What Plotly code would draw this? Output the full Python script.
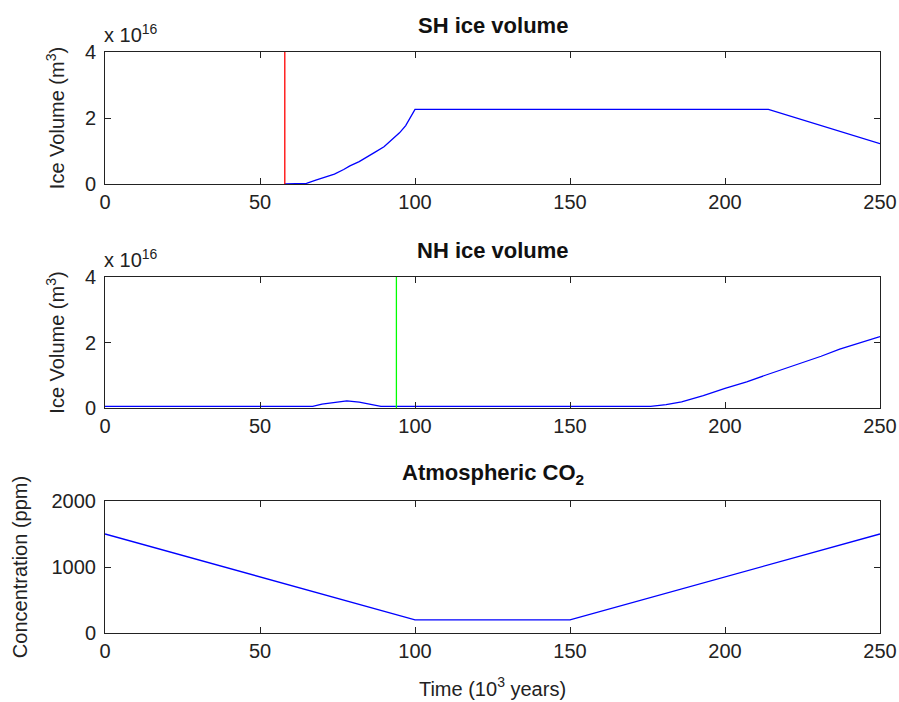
import plotly.graph_objects as go
from plotly.subplots import make_subplots

# SH ice volume (units of 1e16 m^3)
sh_t = [58, 65, 68, 71, 74, 77, 79, 82, 84, 87, 90, 93, 95, 97, 98.5, 100, 214, 250]
sh_v = [0, 0.02, 0.12, 0.21, 0.30, 0.44, 0.55, 0.68, 0.80, 0.96, 1.13, 1.38, 1.55, 1.77, 2.0, 2.26, 2.26, 1.22]
sh_marker_t = 58

# NH ice volume (units of 1e16 m^3)
nh_t = [0, 67, 70, 74, 78, 82, 86, 89, 176, 181, 186, 193, 200, 207, 213, 219, 224, 231, 237, 244, 250]
nh_v = [0.05, 0.05, 0.12, 0.18, 0.22, 0.18, 0.10, 0.05, 0.05, 0.10, 0.19, 0.38, 0.60, 0.80, 1.00, 1.19, 1.36, 1.58, 1.80, 2.00, 2.18]
nh_marker_t = 94

# Atmospheric CO2 (ppm)
co2_t = [0, 100, 150, 250]
co2_v = [1500, 200, 200, 1500]

xticks = [0, 50, 100, 150, 200, 250]
ice_ticks = [0, 2, 4]
co2_ticks = [0, 1000, 2000]

FONT = "Liberation Sans, Arial, sans-serif"
TS = 20

fig = make_subplots(rows=3, cols=1)

fig.add_trace(go.Scatter(x=sh_t, y=sh_v, mode="lines", line=dict(color="#0000FF", width=1.3)), row=1, col=1)
fig.add_trace(go.Scatter(x=[sh_marker_t, sh_marker_t], y=[0, 4], mode="lines", line=dict(color="#FF0000", width=1.3)), row=1, col=1)
fig.add_trace(go.Scatter(x=nh_t, y=nh_v, mode="lines", line=dict(color="#0000FF", width=1.3)), row=2, col=1)
fig.add_trace(go.Scatter(x=[nh_marker_t, nh_marker_t], y=[0, 4], mode="lines", line=dict(color="#00FF00", width=1.3)), row=2, col=1)
fig.add_trace(go.Scatter(x=co2_t, y=co2_v, mode="lines", line=dict(color="#0000FF", width=1.3)), row=3, col=1)

H = 702
t, b = 52, 69
ph = H - t - b
def frac(py):
    return (H - b - py) / ph

domains = [(frac(184), 1.0), (frac(408), frac(277)), (0.0, frac(501))]

axis_common = dict(
    showline=True, linecolor="#222222", linewidth=1, mirror="allticks",
    ticks="inside", ticklen=6, tickcolor="#222222", showgrid=False, zeroline=False,
    tickfont=dict(family=FONT, size=TS, color="#222222"), automargin=False,
)

for i in range(3):
    xa = "xaxis" if i == 0 else f"xaxis{i+1}"
    ya = "yaxis" if i == 0 else f"yaxis{i+1}"
    fig.layout[xa].update(range=[0, 250], tickvals=xticks, ticktext=[str(v) for v in xticks], **axis_common)
    yt = co2_ticks if i == 2 else ice_ticks
    yr = [0, 2000] if i == 2 else [0, 4]
    fig.layout[ya].update(range=yr, tickvals=yt, ticktext=[str(v) for v in yt], domain=list(domains[i]),
                          ticklabelstandoff=4, **axis_common)

lab_font = dict(family=FONT, size=TS, color="#222222")
fig.layout.yaxis.title = dict(text="Ice Volume (m<sup>3</sup>)", font=lab_font, standoff=14)
fig.layout.yaxis2.title = dict(text="Ice Volume (m<sup>3</sup>)", font=lab_font, standoff=14)
fig.layout.yaxis3.title = dict(text="Concentration (ppm)", font=lab_font, standoff=18)
fig.layout.xaxis3.title = dict(text="Time (10<sup>3</sup> years)", font=lab_font, standoff=20)

titles = ["<b>SH ice volume</b>", "<b>NH ice volume</b>", "<b>Atmospheric CO<sub>2</sub></b>"]
tops = [1.0, frac(277), frac(501)]
annotations = []
for ti, top in zip(titles, tops):
    annotations.append(dict(text=ti, xref="paper", yref="paper", x=0.5, y=top, yshift=27,
                            xanchor="center", yanchor="middle", showarrow=False,
                            font=dict(family=FONT, size=22, color="#111111")))
for top in tops[:2]:
    annotations.append(dict(text="x 10<sup>16</sup>", xref="paper", yref="paper", x=0, y=top, xshift=-3, yshift=4,
                            xanchor="left", yanchor="bottom", showarrow=False,
                            font=dict(family=FONT, size=TS, color="#222222")))

fig.update_layout(
    width=899, height=702,
    margin=dict(l=105, r=19, t=t, b=b, autoexpand=False),
    paper_bgcolor="white", plot_bgcolor="white",
    showlegend=False,
    annotations=annotations,
    font=dict(family=FONT, color="#222222"),
)

fig.write_html("out.html")
